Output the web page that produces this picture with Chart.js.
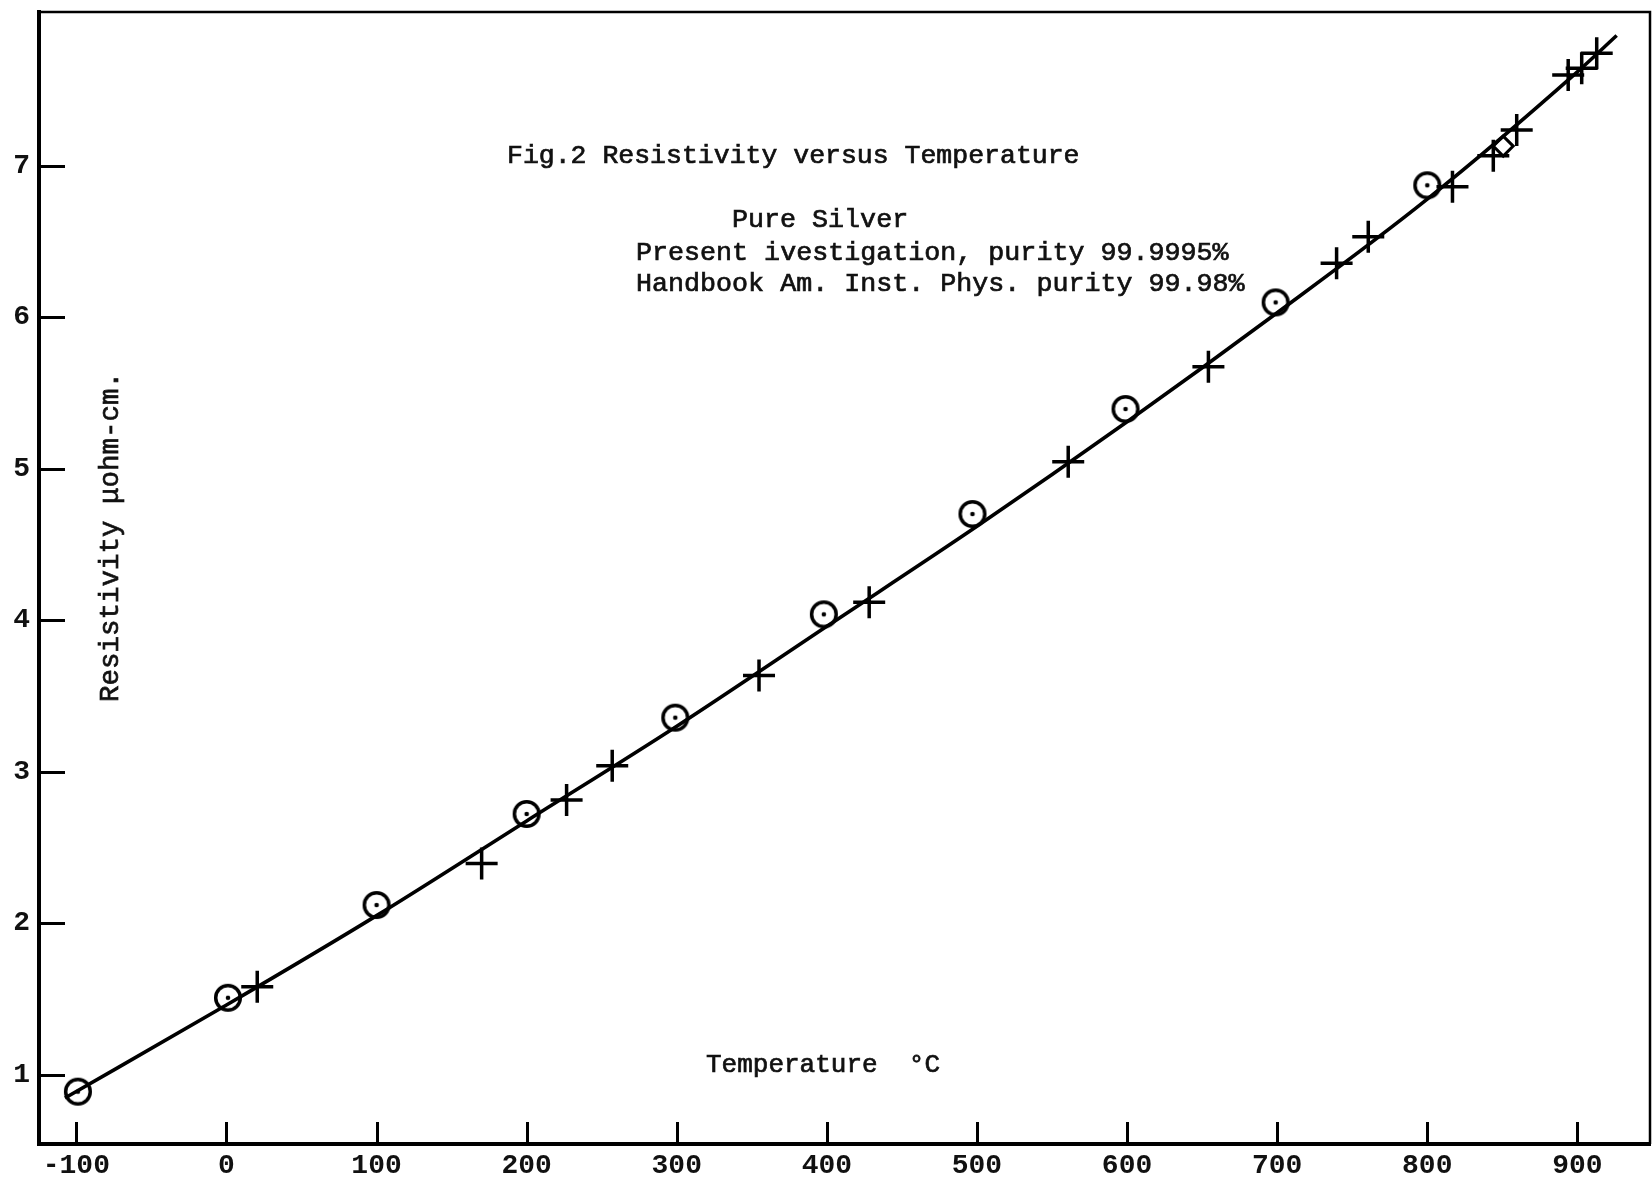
<!DOCTYPE html>
<html>
<head>
<meta charset="utf-8">
<title>Resistivity versus Temperature</title>
<script src="https://cdn.jsdelivr.net/npm/chart.js@4.4.1/dist/chart.umd.min.js"></script>
<style>
  html, body { margin: 0; padding: 0; background: #fff; overflow: hidden; }
  canvas { display: block; }
</style>
</head>
<body>
<canvas id="chart" width="1652" height="1190"></canvas>
<script>
// Handbook Am. Inst. Phys. values (purity 99.98%), resistivity in µohm-cm
const handbookTemp = [-99, 1, 100, 200, 299, 398, 497, 599, 699, 800];
const handbookRes  = [0.888, 1.508, 2.12, 2.721, 3.357, 4.039, 4.701, 5.394, 6.098, 6.871];

// Present investigation (purity 99.9995%)
const presentTemp = [20.5, 170, 226.6, 257, 354.8, 428.2, 560.8, 654.2, 739.6, 760.7, 816.8, 844, 859.6, 893.9, 902.9, 912.9];
const presentRes  = [1.581, 2.395, 2.813, 3.04, 3.636, 4.118, 5.046, 5.673, 6.356, 6.531, 6.861, 7.066, 7.236, 7.599, 7.643, 7.742];

// single point drawn as a small diamond
const diamondTemp = [850.6];
const diamondRes  = [7.13];

// faired curve through the measurements
const curveTemp = [-107.6, 0, 100, 200, 300, 400, 500, 600, 700, 800, 900, 926.2];
const curveRes  = [0.846, 1.46, 2.05, 2.675, 3.30, 3.96, 4.62, 5.31, 6.03, 6.78, 7.62, 7.86];

// axis ticks
const xTickValues = [-100, 0, 100, 200, 300, 400, 500, 600, 700, 800, 900];
const xTickLabels = ['-100', '0', '100', '200', '300', '400', '500', '600', '700', '800', '900'];
const yTickValues = [1, 2, 3, 4, 5, 6, 7];
const yTickLabels = ['1', '2', '3', '4', '5', '6', '7'];

const toPoints = (xs, ys) => xs.map((x, i) => ({ x: x, y: ys[i] }));

// circle-with-centre-dot marker
function dotCircle() {
  const c = document.createElement('canvas');
  c.width = 36; c.height = 36;
  const g = c.getContext('2d');
  g.strokeStyle = '#000';
  g.lineWidth = 3.5;
  g.beginPath(); g.arc(18, 18, 12.3, 0, Math.PI * 2); g.stroke();
  g.fillStyle = '#000';
  g.beginPath(); g.arc(18, 18, 2.3, 0, Math.PI * 2); g.fill();
  return c;
}

const MONO = '"Liberation Mono", "DejaVu Sans Mono", monospace';

// typed text, slightly heavier than the plain face
function typed(ctx, text, x, y) {
  ctx.fillText(text, x, y);
  ctx.strokeText(text, x, y);
}

// inward tick marks, thin top/right frame, and the text block
const decorations = {
  id: 'decorations',
  afterDraw(chart) {
    const { ctx, chartArea: a, scales: { x, y } } = chart;
    ctx.save();
    ctx.strokeStyle = '#000';
    ctx.lineCap = 'butt';

    ctx.lineWidth = 3;
    xTickValues.forEach(v => {
      const px = Math.round(x.getPixelForValue(v)) + 0.5;
      ctx.beginPath(); ctx.moveTo(px, a.bottom); ctx.lineTo(px, a.bottom - 22); ctx.stroke();
    });
    yTickValues.forEach(v => {
      const py = Math.round(y.getPixelForValue(v)) + 0.5;
      ctx.beginPath(); ctx.moveTo(a.left, py); ctx.lineTo(a.left + 26, py); ctx.stroke();
    });

    ctx.lineWidth = 2.5;
    ctx.beginPath();
    ctx.moveTo(a.left, a.top);
    ctx.lineTo(a.right, a.top);
    ctx.lineTo(a.right, a.bottom);
    ctx.stroke();

    ctx.fillStyle = '#111';
    ctx.strokeStyle = '#111';
    ctx.lineWidth = 0.7;
    ctx.textBaseline = 'middle';
    ctx.textAlign = 'left';
    ctx.font = '26.5px ' + MONO;
    typed(ctx, 'Fig.2 Resistivity versus Temperature', 507, 156);
    ctx.font = '26.7px ' + MONO;
    typed(ctx, 'Pure Silver', 732, 220);
    typed(ctx, 'Present ivestigation, purity 99.9995%', 636, 253);
    typed(ctx, 'Handbook Am. Inst. Phys. purity 99.98%', 636, 284);
    ctx.font = '26px ' + MONO;
    typed(ctx, 'Temperature  \u00B0C', 706, 1065);

    ctx.translate(111, 537);
    ctx.rotate(-Math.PI / 2);
    ctx.textAlign = 'center';
    ctx.font = '27.5px ' + MONO;
    typed(ctx, 'Resistivity \u03BCohm-cm.', 0, 0);
    ctx.restore();
  }
};

// keep the plot frame fixed: no extra room reserved for edge labels
function fixX(s) { s.height = 46; s.paddingLeft = 0; s.paddingRight = 0; s.paddingTop = 0; s.paddingBottom = 0; }
function fixY(s) { s.width = 39; s.paddingLeft = 0; s.paddingRight = 0; s.paddingTop = 0; s.paddingBottom = 0; }

new Chart(document.getElementById('chart'), {
  type: 'scatter',
  data: {
    datasets: [
      {
        label: 'Handbook Am. Inst. Phys.',
        data: toPoints(handbookTemp, handbookRes),
        pointStyle: dotCircle(),
        pointRadius: 14,
        pointHoverRadius: 14
      },
      {
        label: 'Present investigation',
        data: toPoints(presentTemp, presentRes),
        pointStyle: 'cross',
        pointRadius: 16,
        pointHoverRadius: 16,
        borderColor: '#000',
        borderWidth: 3.5
      },
      {
        label: 'Diamond',
        data: toPoints(diamondTemp, diamondRes),
        pointStyle: 'rectRot',
        pointRadius: 10,
        pointHoverRadius: 10,
        borderColor: '#000',
        backgroundColor: 'rgba(0,0,0,0)',
        borderWidth: 3
      },
      {
        label: 'Curve',
        data: toPoints(curveTemp, curveRes),
        showLine: true,
        cubicInterpolationMode: 'monotone',
        borderColor: '#000',
        borderWidth: 3.6,
        pointRadius: 0,
        pointHoverRadius: 0,
        fill: false
      }
    ]
  },
  options: {
    responsive: false,
    maintainAspectRatio: false,
    devicePixelRatio: 1,
    animation: false,
    events: [],
    layout: { autoPadding: false, padding: { top: 12, right: 2, left: 0, bottom: 0 } },
    plugins: {
      legend: { display: false },
      title: { display: false },
      tooltip: { enabled: false }
    },
    scales: {
      x: {
        type: 'linear',
        min: -124.9,
        max: 948.4,
        afterBuildTicks: s => { s.ticks = xTickValues.map(v => ({ value: v })); },
        afterFit: fixX,
        grid: { display: false, drawTicks: false },
        border: { display: true, color: '#000', width: 4 },
        ticks: {
          color: '#111',
          font: { family: MONO, size: 28, weight: 'bold' },
          padding: 5,
          maxRotation: 0,
          autoSkip: false,
          callback: v => xTickLabels[xTickValues.indexOf(v)]
        }
      },
      y: {
        type: 'linear',
        min: 0.5426,
        max: 8.015,
        afterBuildTicks: s => { s.ticks = yTickValues.map(v => ({ value: v })); },
        afterFit: fixY,
        grid: { display: false, drawTicks: false },
        border: { display: true, color: '#000', width: 4 },
        ticks: {
          color: '#111',
          font: { family: MONO, size: 28, weight: 'bold' },
          padding: 9,
          autoSkip: false,
          callback: v => yTickLabels[yTickValues.indexOf(v)]
        }
      }
    }
  },
  plugins: [decorations]
});
</script>
</body>
</html>
